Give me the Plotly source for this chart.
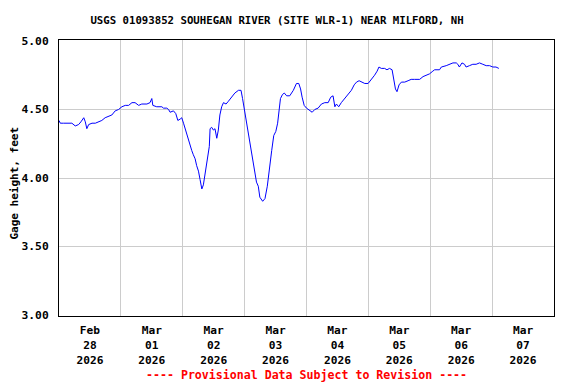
import pandas as pd
import plotly.graph_objects as go

# Hours since 2026-02-28 00:00 and gage height (feet)
hours = [0.0, 0.5, 1.8, 3.1, 5.0, 6.3, 7.6, 8.5, 9.6, 10.2, 10.8, 11.5, 12.8, 14.1, 15.4,
         16.6, 17.9, 19.2, 20.5, 21.8, 23.1, 24.4, 25.7, 27.0, 28.3, 29.5, 30.9, 32.1, 34.1,
         35.3, 36.0, 36.4, 37.9, 39.9, 40.5, 41.8, 42.5, 43.1, 44.4, 45.3, 46.1, 47.0, 47.6,
         48.3, 48.9, 49.5, 50.2, 50.8, 51.5, 52.1, 52.8, 53.4, 54.1, 54.7, 55.4, 56.0, 56.6,
         57.3, 57.9, 58.3, 58.6, 59.2, 59.9, 60.5, 61.2, 61.8, 62.4, 63.1, 63.8, 64.8, 65.7,
         67.0, 68.2, 69.6, 70.6, 71.2, 72.1, 72.8, 73.4, 74.1, 74.7, 75.4, 76.0, 76.6, 77.3,
         77.9, 79.0, 79.9, 80.8, 81.6, 82.5, 83.3, 84.1, 84.8, 85.4, 85.9, 86.7, 87.4, 88.3,
         89.5, 90.9, 92.1, 93.0, 93.7, 94.3, 95.1, 96.0, 97.3, 98.2, 99.2, 100.5, 101.8, 103.1,
         104.4, 105.4, 106.3, 107.0, 107.6, 108.5, 109.5, 110.8, 112.1, 113.4, 114.5, 115.4,
         116.4, 117.3, 118.6, 119.9, 121.2, 122.4, 123.4, 124.1, 125.0, 126.3, 127.2, 128.2,
         129.2, 129.8, 130.5, 131.1, 131.9, 132.8, 134.1, 135.4, 136.6, 137.9, 139.9, 141.2,
         142.5, 143.7, 145.0, 145.7, 147.6, 148.3, 150.2, 151.5, 152.8, 154.1, 154.7, 155.3,
         156.3, 157.3, 157.9, 159.2, 160.5, 161.8, 163.1, 164.4, 165.7, 167.0, 168.3, 169.5,
         170.6]
gage_ft = [4.42, 4.40, 4.40, 4.40, 4.40, 4.38, 4.39, 4.41, 4.44, 4.41, 4.36, 4.39, 4.40, 4.40, 4.41,
           4.42, 4.44, 4.45, 4.46, 4.49, 4.50, 4.52, 4.53, 4.53, 4.55, 4.55, 4.53, 4.54, 4.54,
           4.55, 4.58, 4.53, 4.52, 4.52, 4.51, 4.51, 4.50, 4.48, 4.49, 4.47, 4.42, 4.43, 4.44,
           4.40, 4.36, 4.32, 4.28, 4.25, 4.20, 4.17, 4.14, 4.09, 4.05, 3.99, 3.92, 3.95, 4.02,
           4.09, 4.17, 4.23, 4.36, 4.37, 4.35, 4.36, 4.29, 4.35, 4.46, 4.52, 4.55, 4.54, 4.56,
           4.59, 4.62, 4.64, 4.64, 4.58, 4.48, 4.41, 4.33, 4.24, 4.17, 4.11, 4.05, 3.97, 3.94,
           3.86, 3.83, 3.85, 3.94, 4.08, 4.20, 4.31, 4.34, 4.40, 4.52, 4.58, 4.61, 4.62, 4.60,
           4.60, 4.64, 4.69, 4.69, 4.65, 4.59, 4.53, 4.51, 4.49, 4.48, 4.50, 4.51, 4.54, 4.55,
           4.55, 4.59, 4.60, 4.52, 4.54, 4.52, 4.55, 4.58, 4.61, 4.64, 4.68, 4.70,
           4.71, 4.70, 4.69, 4.69, 4.72, 4.75, 4.78, 4.81, 4.80, 4.80, 4.79, 4.80,
           4.79, 4.73, 4.65, 4.63, 4.68, 4.70, 4.70, 4.71, 4.72, 4.72, 4.72, 4.74,
           4.75, 4.76, 4.78, 4.79, 4.79, 4.81, 4.82, 4.83, 4.84, 4.84, 4.83, 4.81,
           4.84, 4.83, 4.81, 4.82, 4.83, 4.83, 4.84, 4.83, 4.82, 4.82, 4.81, 4.81,
           4.80]

start = pd.Timestamp("2026-02-28 00:00")
times = [start + pd.Timedelta(hours=h) for h in hours]

day_starts = ["2026-02-28", "2026-03-01", "2026-03-02", "2026-03-03", "2026-03-04",
              "2026-03-05", "2026-03-06", "2026-03-07", "2026-03-08"]
label_days = ["2026-02-28 12:00", "2026-03-01 12:00", "2026-03-02 12:00", "2026-03-03 12:00",
              "2026-03-04 12:00", "2026-03-05 12:00", "2026-03-06 12:00", "2026-03-07 12:00"]
x_labels = ["Feb<br>28<br>2026", "Mar<br>01<br>2026", "Mar<br>02<br>2026", "Mar<br>03<br>2026",
            "Mar<br>04<br>2026", "Mar<br>05<br>2026", "Mar<br>06<br>2026", "Mar<br>07<br>2026"]
y_ticks = [3.00, 3.50, 4.00, 4.50, 5.00]
y_labels = ["3.00", "3.50", "4.00", "4.50", "5.00"]

FONT = "DejaVu Sans Mono"

fig = go.Figure()
fig.add_trace(go.Scatter(x=times, y=gage_ft, mode="lines",
                         line=dict(color="#0000FF", width=1), hoverinfo="skip",
                         showlegend=False))

# page body has an 8px margin, so the figure is shrunk by 8px and shifted
fig.update_layout(
    width=568, height=376,
    margin=dict(l=51, r=22, t=32, b=68, autoexpand=False),
    paper_bgcolor="white", plot_bgcolor="white",
    font=dict(family=FONT, size=11, color="black"),
    title=dict(text="<b>USGS 01093852 SOUHEGAN RIVER (SITE WLR-1) NEAR MILFORD, NH</b>",
               x=269 / 568, xanchor="center", y=1 - 12 / 376, yanchor="middle",
               font=dict(family=FONT, size=10.7, color="black")),
)

fig.update_xaxes(
    type="date", automargin=False,
    range=[day_starts[0], day_starts[-1]],
    tickmode="array", tickvals=label_days,
    ticktext=["<b>" + t.replace("<br>", "</b><br><b>") + "</b>" for t in x_labels],
    showgrid=False, ticks="", ticklabelstandoff=4,
    tickfont=dict(family=FONT, size=11.2, color="black"),
    minor=dict(tickmode="array", tickvals=day_starts[1:-1], showgrid=True,
               gridcolor="#cccccc", gridwidth=1, ticks=""),
    showline=True, linecolor="black", linewidth=1, mirror=True,
    zeroline=False,
)

fig.update_yaxes(
    automargin=False,
    range=[3 - 1 / 137, 5 + 1 / 137],
    tickmode="array", tickvals=y_ticks,
    ticktext=["<b>" + t + "</b>" for t in y_labels],
    showgrid=True, gridcolor="#cccccc", gridwidth=1,
    ticks="", ticklabelstandoff=7,
    tickfont=dict(family=FONT, size=11.3, color="black"),
    showline=True, linecolor="black", linewidth=1, mirror=True,
    zeroline=False,
)

# y-axis title
fig.add_annotation(
    text="<b>Gage height, feet</b>", textangle=-90,
    xref="paper", yref="paper", x=-44 / 495, y=0.48, xanchor="center", yanchor="middle",
    borderpad=0, showarrow=False, font=dict(family=FONT, size=11, color="black"),
)

fig.add_annotation(
    text="<b>---- Provisional Data Subject to Revision ----</b>",
    xref="paper", yref="paper", x=0.5, y=-59 / 276, xanchor="center", yanchor="middle",
    showarrow=False, font=dict(family=FONT, size=11.6, color="#FF0000"),
)

fig.write_html("out.html")
